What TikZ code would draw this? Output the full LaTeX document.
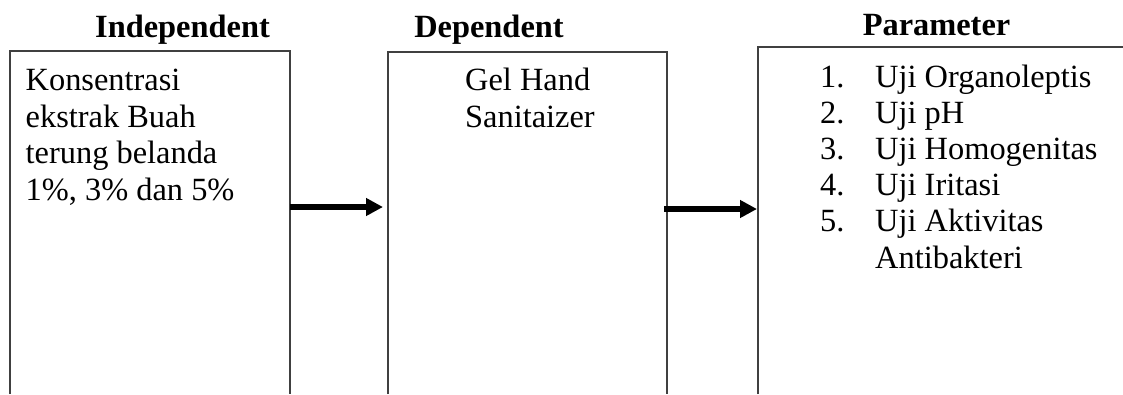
\documentclass[tikz,border=0pt]{standalone}
\usepackage{fontspec}
\setmainfont{Liberation Serif}
\usetikzlibrary{arrows.meta}
\begin{document}
\begin{tikzpicture}[x=1pt,y=-1pt,
  box/.style={draw=none, inner sep=0pt, outer sep=0pt, anchor=north west},
  frame/.style={draw=black!75, line width=1.1pt},
  head/.style={font=\fontsize{32.4}{36.7}\selectfont\bfseries, anchor=base, inner sep=0pt},
  body/.style={font=\fontsize{32.4}{36.7}\selectfont, anchor=base west, inner sep=0pt, align=left},
  arr/.style={line width=6.5pt, -{Triangle[length=17pt,width=17pt]}}]
\useasboundingbox (0,0) rectangle (1123,394);

% open-bottomed boxes
\node[box, minimum width=280pt, minimum height=343pt] (box1) at (10,51) {};
\node[box, minimum width=279pt, minimum height=342pt] (box2) at (388,52) {};
\node[box, minimum width=372pt, minimum height=347pt] (box3) at (758,47) {};
\draw[frame] (box1.south west) -- (box1.north west) -- (box1.north east) -- (box1.south east);
\draw[frame] (box2.south west) -- (box2.north west) -- (box2.north east) -- (box2.south east);
\draw[frame] (box3.south west) -- (box3.north west) -- (box3.north east);

% column headings
\node[head] (h1) at (182.5,37) {Independent};
\node[head] (h2) at (489,37) {Dependent};
\node[head] (h3) at (936.5,35) {Parameter};

% box contents (multi-line nodes sit on the baseline of their last line)
\node[body] (t1) at (25.5,200.6) {Konsentrasi\\ekstrak Buah\\terung belanda\\1\%, 3\% dan 5\%};
\node[body] (t2) at (465,127.2) {Gel Hand\\Sanitaizer};

\node[body] (n1) at (820,87.5) {1.};
\node[body] (n2) at (820,123.5) {2.};
\node[body] (n3) at (820,159.5) {3.};
\node[body] (n4) at (820,195.5) {4.};
\node[body] (n5) at (820,231.5) {5.};
\node[body] (p1) at (875,87.5) {Uji Organoleptis};
\node[body] (p2) at (875,123.5) {Uji pH};
\node[body] (p3) at (875,159.5) {Uji Homogenitas};
\node[body] (p4) at (875,195.5) {Uji Iritasi};
\node[body] (p5) at (875,268.2) {Uji Aktivitas\\Antibakteri};

% connectors
\coordinate (r1) at (0,207);
\coordinate (r2) at (0,209);
\draw[arr] (box1.east |- r1) -- ([xshift=-5pt]box2.west |- r1);
\draw[arr] ([xshift=-3pt]box2.east |- r2) -- ([xshift=-1pt]box3.west |- r2);
\end{tikzpicture}
\end{document}
